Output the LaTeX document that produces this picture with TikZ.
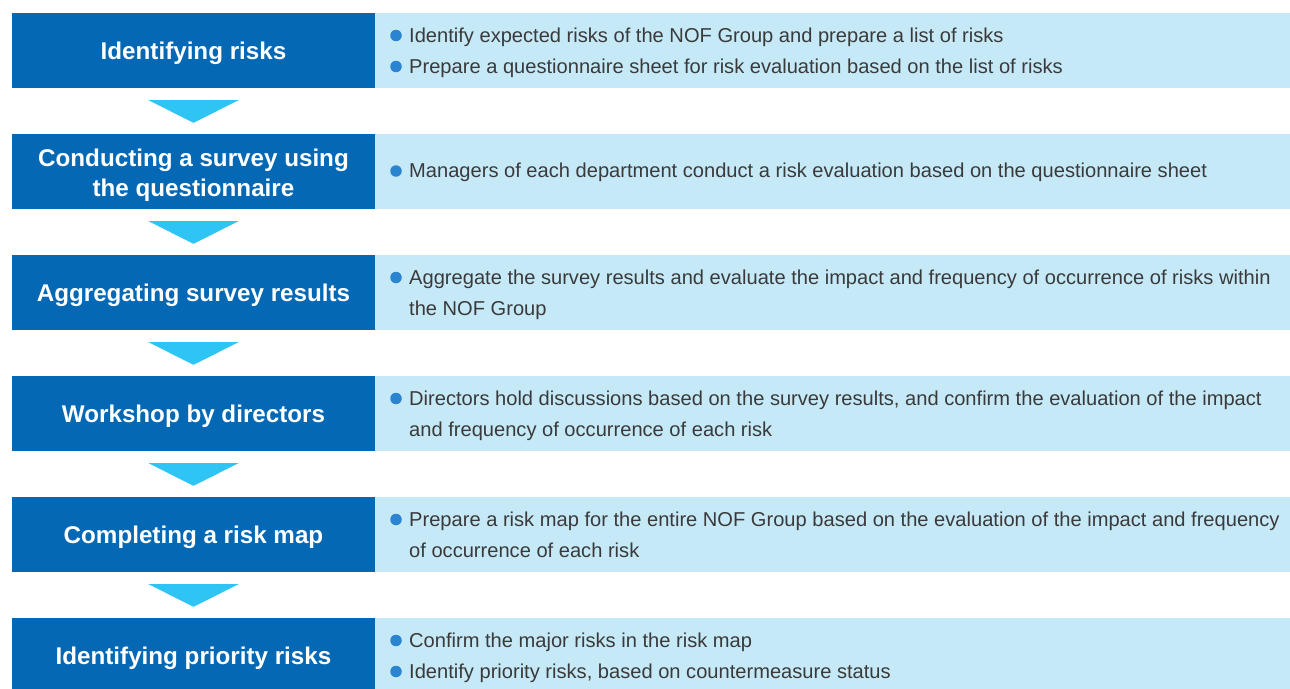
\documentclass[tikz,border=0pt]{standalone}
\usepackage{fontspec}
\setmainfont{Liberation Sans}
\usetikzlibrary{calc}
\definecolor{stepblue}{HTML}{0468B4}
\definecolor{notefill}{HTML}{C6E9F8}
\definecolor{flowarrow}{HTML}{2EC4F3}
\definecolor{bulletblue}{HTML}{2B84CF}
\definecolor{bodytext}{HTML}{3A3A3A}
\tikzset{
  titlebox/.style={rectangle, fill=stepblue, minimum width=363pt, minimum height=75pt, inner sep=0pt},
  notebox/.style={rectangle, fill=notefill, minimum width=915pt, minimum height=75pt, inner sep=0pt},
  steplabel/.style={anchor=base, inner sep=0pt, text=white, font=\fontsize{24.2}{30}\selectfont\bfseries},
  noteline/.style={anchor=base west, inner sep=0pt, text=bodytext, font=\fontsize{20.1}{31}\selectfont},
  bulletdot/.style={circle, fill=bulletblue, minimum size=11.5pt, inner sep=0pt},
  flowtri/.style={fill=flowarrow}
}
\begin{document}
\begin{tikzpicture}[x=1pt,y=-1pt]
\useasboundingbox (0,0) rectangle (1290,688);

% step boxes (left) and note panels (right); rows are 121pt apart
\node[titlebox] (t1) at (193.5,50.5) {};
\node[notebox]  (d1) at (832.5,50.5) {};
\node[titlebox] (t2) at (193.5,171.5) {};
\node[notebox]  (d2) at (832.5,171.5) {};
\node[titlebox] (t3) at (193.5,292.5) {};
\node[notebox]  (d3) at (832.5,292.5) {};
\node[titlebox] (t4) at (193.5,413.5) {};
\node[notebox]  (d4) at (832.5,413.5) {};
\node[titlebox] (t5) at (193.5,534.5) {};
\node[notebox]  (d5) at (832.5,534.5) {};
\node[titlebox] (t6) at (193.5,655.5) {};
\node[notebox]  (d6) at (832.5,655.5) {};

% step titles
\node[steplabel] (l1)  at (193.5,59)  {Identifying risks};
\node[steplabel] (l2a) at (193.5,166) {Conducting a survey using};
\node[steplabel] (l2b) at (193.5,196) {the questionnaire};
\node[steplabel] (l3)  at (193.5,301) {Aggregating survey results};
\node[steplabel] (l4)  at (193.5,422) {Workshop by directors};
\node[steplabel] (l5)  at (193.5,543) {Completing a risk map};
\node[steplabel] (l6)  at (193.5,664) {Identifying priority risks};

% notes
\node[bulletdot] (b1a) at (396,35.5) {};
\node[noteline]  (n1a) at (409,42)  {Identify expected risks of the NOF Group and prepare a list of risks};
\node[bulletdot] (b1b) at (396,66.5) {};
\node[noteline]  (n1b) at (409,73)  {Prepare a questionnaire sheet for risk evaluation based on the list of risks};

\node[bulletdot] (b2a) at (396,171) {};
\node[noteline]  (n2a) at (409,177.5) {Managers of each department conduct a risk evaluation based on the questionnaire sheet};

\node[bulletdot] (b3a) at (396,277.5) {};
\node[noteline]  (n3a) at (409,284) {Aggregate the survey results and evaluate the impact and frequency of occurrence of risks within};
\node[noteline]  (n3b) at (409,315) {the NOF Group};

\node[bulletdot] (b4a) at (396,398.5) {};
\node[noteline]  (n4a) at (409,405) {Directors hold discussions based on the survey results, and confirm the evaluation of the impact};
\node[noteline]  (n4b) at (409,436) {and frequency of occurrence of each risk};

\node[bulletdot] (b5a) at (396,519.5) {};
\node[noteline]  (n5a) at (409,526) {Prepare a risk map for the entire NOF Group based on the evaluation of the impact and frequency};
\node[noteline]  (n5b) at (409,557) {of occurrence of each risk};

\node[bulletdot] (b6a) at (396,640.5) {};
\node[noteline]  (n6a) at (409,647) {Confirm the major risks in the risk map};
\node[bulletdot] (b6b) at (396,671.5) {};
\node[noteline]  (n6b) at (409,678) {Identify priority risks, based on countermeasure status};

% downward flow arrows between steps
\foreach \a/\b in {t1/t2, t2/t3, t3/t4, t4/t5, t5/t6} {
  \fill[flowtri] ($(\a.south)+(-45,12)$) -- ($(\a.south)+(45,12)$) -- ($(\b.north)+(0,-11)$) -- cycle;
}
\end{tikzpicture}
\end{document}
